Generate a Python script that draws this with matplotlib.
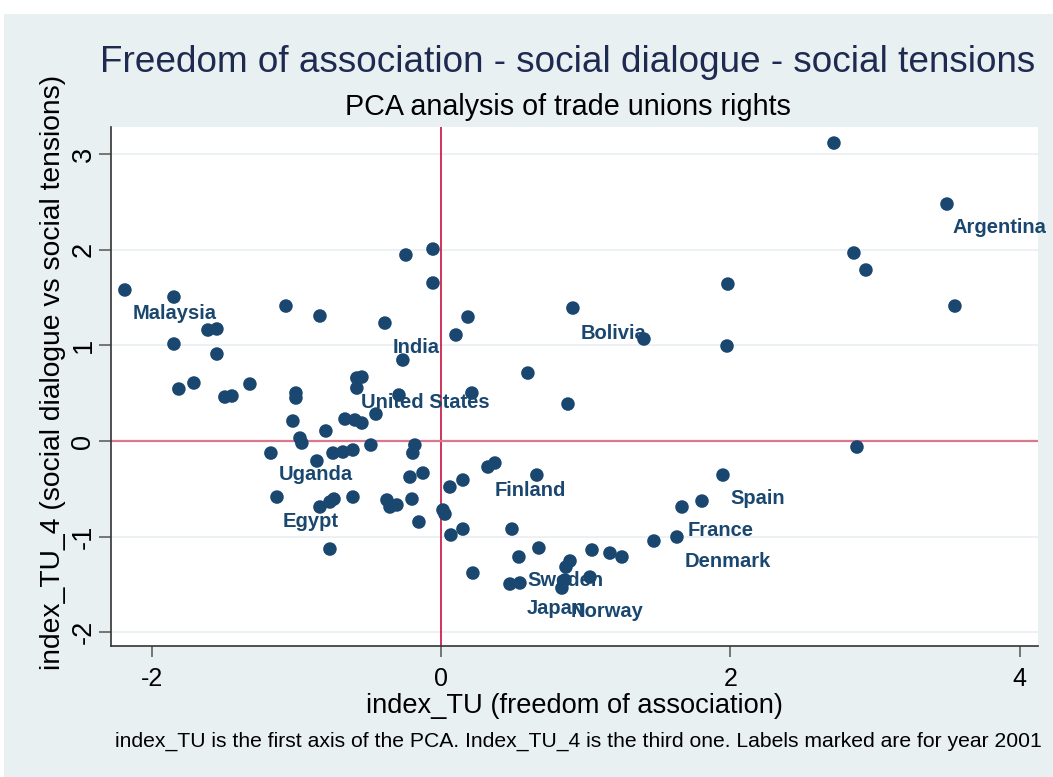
import matplotlib
matplotlib.use("Agg")
import matplotlib.pyplot as plt
from matplotlib.patches import Rectangle

plt.rcParams['font.family'] = ['Liberation Sans', 'DejaVu Sans']

# ---- data ----
index_TU = [
    -2.184, -1.845, -1.845, -1.811, -1.707, -1.610, -1.548, -1.548, -1.493, -1.444,
    -1.320, -1.071, -0.836, -0.387, -0.242, -0.055, -0.055, -1.002, -1.002, -1.023,
    -0.795, -0.581, -0.546, -0.581, -0.663, -0.594, -0.546, -0.449, -0.263, -0.290,
    -0.974, -0.961, -1.175, -0.857, -0.746, -0.677, -0.608, -0.484, -0.180, -0.194,
    -1.133, -0.836, -0.767, -0.739, -0.608, -0.373, -0.352, -0.304, -0.200, -0.214,
    -0.124, -0.152, 0.014, 0.028, 0.062, 0.152, 0.325, 0.373, 0.663, 0.069,
    0.152, 0.491, -0.767, 0.221, 0.539, 0.677, 0.477, 0.546, 0.187, 0.104,
    0.912, 1.403, 1.977, 0.601, 0.214, 0.878, 1.949, 1.804, 1.666, 1.472,
    1.631, 1.044, 1.168, 1.251, 0.892, 0.864, 0.857, 0.836, 1.030, 2.716,
    3.497, 2.854, 2.937, 1.983, 3.552, 2.875,
]
index_TU_4 = [
    1.580, 1.506, 1.015, 0.544, 0.607, 1.161, 1.172, 0.910, 0.460, 0.471,
    0.596, 1.412, 1.308, 1.234, 1.946, 2.008, 1.653, 0.502, 0.450, 0.209,
    0.105, 0.659, 0.669, 0.554, 0.230, 0.220, 0.188, 0.282, 0.847, 0.481,
    0.031, -0.021, -0.126, -0.209, -0.126, -0.115, -0.094, -0.042, -0.042, -0.126,
    -0.586, -0.690, -0.638, -0.607, -0.586, -0.617, -0.690, -0.669, -0.607, -0.377,
    -0.335, -0.847, -0.722, -0.764, -0.481, -0.408, -0.272, -0.230, -0.356, -0.983,
    -0.921, -0.921, -1.130, -1.381, -1.213, -1.119, -1.496, -1.485, 1.297, 1.109,
    1.391, 1.067, 0.994, 0.711, 0.502, 0.387, -0.356, -0.628, -0.690, -1.046,
    -1.004, -1.140, -1.172, -1.213, -1.255, -1.318, -1.454, -1.538, -1.423, 3.117,
    2.479, 1.967, 1.789, 1.642, 1.412, -0.063,
]

label_names = ["Malaysia", "India", "United States", "Uganda", "Egypt", "Finland",
               "Bolivia", "Argentina", "Spain", "France", "Denmark", "Sweden",
               "Japan", "Norway"]
label_x = [-2.129, -0.332, -0.553, -1.120, -1.092, 0.373, 0.968, 3.538, 1.997,
           1.707, 1.686, 0.594, 0.594, 0.898]
label_y = [1.339, 0.983, 0.408, -0.345, -0.837, -0.513, 1.130, 2.238, -0.596,
           -0.931, -1.255, -1.454, -1.747, -1.778]

x_ticks = [-2, 0, 2, 4]
y_ticks = [-2, -1, 0, 1, 2, 3]

title = "Freedom of association - social dialogue - social tensions"
subtitle = "PCA analysis of trade unions rights"
x_title = "index_TU (freedom of association)"
y_title = "index_TU_4 (social dialogue vs social tensions)"
note = ("index_TU is the first axis of the PCA. Index_TU_4 is the third one. "
        "Labels marked are for year 2001")

# ---- figure ----
W, H = 1053, 777
fig = plt.figure(figsize=(W / 100, H / 100), dpi=100)
fig.patch.set_facecolor('white')
bg = '#E8F0F2'
fig.add_artist(Rectangle((4 / W, 0), 1 - 4 / W, 1 - 14 / H,
                         transform=fig.transFigure, facecolor=bg,
                         edgecolor='none', zorder=-10))

L, R, T, B = 111, 1038, 127, 646
ax = fig.add_axes([L / W, 1 - B / H, (R - L) / W, (B - T) / H])
ax.set_facecolor('white')

navy = '#1A476F'
ax.axvline(0, color='#C8103E', lw=1.2, zorder=1)
ax.axhline(0, color='#DA7890', lw=1.6, zorder=1)
ax.scatter(index_TU, index_TU_4, s=95, color=navy, edgecolors='none', zorder=3)

for name, lx, ly in zip(label_names, label_x, label_y):
    ax.text(lx, ly, name, color=navy, fontsize=14.5, fontweight='bold',
            ha='left', va='center', zorder=4, clip_on=False)

ax.set_xlim(-2.28, 4.126)
ax.set_ylim(-2.144, 3.285)
ax.set_xticks(x_ticks)
ax.set_yticks(y_ticks)
ax.set_xticklabels([str(v) for v in x_ticks])
ax.set_yticklabels([str(v) for v in y_ticks], rotation=90, va='center')

ax.yaxis.grid(True, color='#EBF1F2', lw=1.3, zorder=0)
ax.xaxis.grid(False)
ax.set_axisbelow(True)

for side in ['top', 'right']:
    ax.spines[side].set_visible(False)
for side in ['left', 'bottom']:
    ax.spines[side].set_color('#333333')
    ax.spines[side].set_linewidth(1.2)

ax.tick_params(axis='x', length=8, width=1.1, color='#555555', labelsize=18, pad=7)
ax.tick_params(axis='y', length=8.5, width=1.1, color='#555555', labelsize=19.5, pad=2)

ax.set_xlabel(x_title, fontsize=19.6, va='center')
ax.xaxis.set_label_coords((575 - L) / (R - L), (B - 706) / (B - T))
ax.set_ylabel(y_title, fontsize=20.3, va='center')
ax.yaxis.set_label_coords((53 - L) / (R - L), (B - 372) / (B - T))

fig.text(568 / W, 1 - 62 / H, title, fontsize=26.6, color='#1E2A50',
         ha='center', va='center')
fig.text(568 / W, 1 - 107 / H, subtitle, fontsize=20.7, color='black',
         ha='center', va='center')
fig.text(115 / W, 1 - 741 / H, note, fontsize=15.2, color='black',
         ha='left', va='center')

fig.savefig('out.png', dpi=100, facecolor=fig.get_facecolor())
